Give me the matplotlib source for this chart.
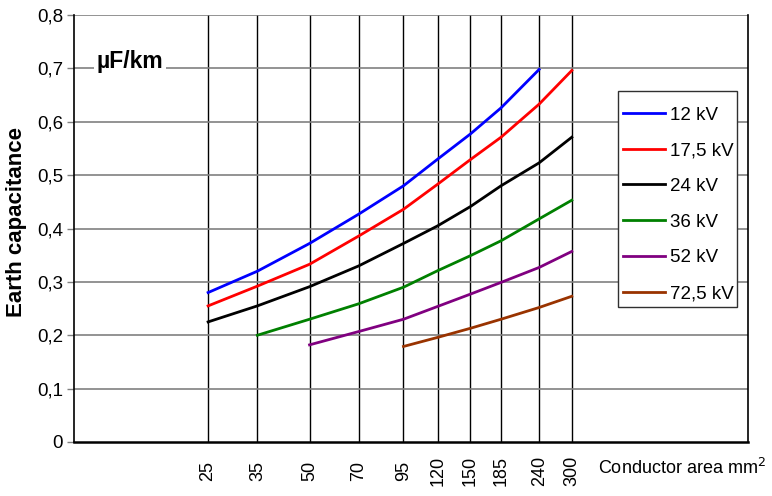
import matplotlib

matplotlib.use("Agg")
import matplotlib.pyplot as plt
from matplotlib.patches import Rectangle
from matplotlib.ticker import FixedLocator, NullLocator

plt.rcParams["font.family"] = ["Liberation Sans", "DejaVu Sans"]

# conductor cross sections (mm2)
areas = [25, 35, 50, 70, 95, 120, 150, 185, 240, 300]

# earth capacitance (uF/km), one list per voltage level
c_12 = [0.280, 0.320, 0.372, 0.427, 0.480, 0.530, 0.577, 0.626, 0.698]
c_17_5 = [0.255, 0.292, 0.333, 0.386, 0.436, 0.483, 0.529, 0.571, 0.633, 0.696]
c_24 = [0.225, 0.255, 0.291, 0.330, 0.372, 0.405, 0.441, 0.480, 0.523, 0.571]
c_36 = [0.200, 0.230, 0.259, 0.290, 0.321, 0.349, 0.377, 0.418, 0.453]
c_52 = [0.182, 0.207, 0.230, 0.254, 0.277, 0.299, 0.327, 0.357]
c_72_5 = [0.179, 0.196, 0.213, 0.230, 0.252, 0.273]

series = [
    ("12 kV", areas[:9], c_12, "#0000ff"),
    ("17,5 kV", areas, c_17_5, "#ff0000"),
    ("24 kV", areas, c_24, "#000000"),
    ("36 kV", areas[1:], c_36, "#008000"),
    ("52 kV", areas[2:], c_52, "#800080"),
    ("72,5 kV", areas[4:], c_72_5, "#993300"),
]

yticks = [0, 0.1, 0.2, 0.3, 0.4, 0.5, 0.6, 0.7, 0.8]

W, H = 772, 496
fig = plt.figure(figsize=(W / 100, H / 100), dpi=100)
ax = fig.add_axes([74 / W, 1 - 442 / H, 674 / W, 427 / H])

for label, x, y, color in series:
    ax.plot(x, y, color=color, linewidth=2.0, label=label, zorder=3)

ax.set_xscale("log")
ax.set_xlim(10, 1000)
ax.set_ylim(0, 0.8)

ax.xaxis.set_major_locator(FixedLocator(areas))
ax.xaxis.set_minor_locator(NullLocator())
ax.set_xticklabels([str(a) for a in areas], rotation=90, fontsize=13, va="center")
ax.tick_params(axis="x", length=0, pad=21)

ax.set_yticks(yticks)
ax.set_yticklabels([f"{v:.1f}".replace(".", ",") if v else "0" for v in yticks], fontsize=13.5)
ax.tick_params(axis="y", length=5, color="#808080", width=1, pad=3)

# grid: black verticals at each size, grey horizontals
for a in areas:
    ax.axvline(a, color="black", linewidth=1.0, zorder=1)
for v in yticks[1:]:
    ax.axhline(v, color="#808080", linewidth=1.2, zorder=1)

ax.spines["top"].set_visible(False)
ax.spines["left"].set_linewidth(1.2)
ax.spines["bottom"].set_linewidth(1.8)
ax.spines["right"].set_linewidth(1.2)

fig.text(17 / W, 1 - 222 / H, "Earth capacitance", fontsize=16, fontweight="bold",
         rotation=90, ha="center", va="center")
ax.text(0.083, 0.89, "\u00b5F/km", transform=ax.transAxes, fontsize=16.5,
        fontweight="bold", ha="center", va="center", zorder=4,
        bbox=dict(facecolor="white", edgecolor="none", pad=2))
fig.text(598 / W, 1 - 468 / H, "Conductor area mm$^2$", fontsize=13,
         ha="left", va="center")

# legend box drawn by hand so its padding matches the original
to_ax = lambda px, py: ((px - 74) / 674, (442 - py) / 427)
x0, y0 = to_ax(618, 307)
x1, y1 = to_ax(737, 91)
ax.add_patch(Rectangle((x0, y0), x1 - x0, y1 - y0, transform=ax.transAxes,
                       facecolor="white", edgecolor="#303030", linewidth=1.0,
                       clip_on=False, zorder=5))
leg = ax.legend(loc="upper left", bbox_to_anchor=to_ax(623, 106.5), borderaxespad=0,
                borderpad=0, fontsize=13.5, handlelength=2.25, labelspacing=0.99,
                frameon=False, handletextpad=0.25)
leg.set_zorder(6)

fig.savefig("out.png", dpi=100)
